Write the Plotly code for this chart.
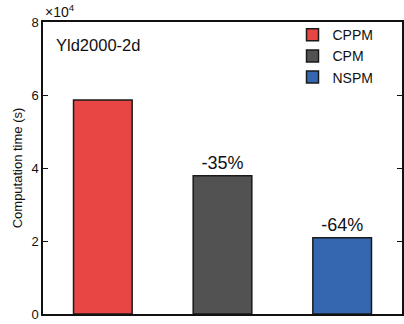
import plotly.graph_objects as go

methods = ["CPPM", "CPM", "NSPM"]
times = [58600, 37900, 20900]
colors = ["#E84545", "#525252", "#3566B0"]
labels = ["", "-35%", "-64%"]
ytick_vals = [0, 20000, 40000, 60000, 80000]
ytick_text = ["0", "2", "4", "6", "8"]

FONT = "Liberation Sans, Arial, sans-serif"

fig = go.Figure()
for i, (m, t, c, lab) in enumerate(zip(methods, times, colors, labels)):
    fig.add_trace(go.Bar(
        x=[i], y=[t], name=m, width=0.49,
        marker=dict(color=c, line=dict(color="#1a1a1a", width=1.5)),
        text=[lab], textposition="outside", cliponaxis=False,
        textfont=dict(size=18, color="#111", family=FONT),
    ))

fig.update_layout(
    width=404, height=324,
    margin=dict(l=43, r=0, t=22, b=10),
    plot_bgcolor="white", paper_bgcolor="white",
    barmode="overlay",
    font=dict(family=FONT, color="#111"),
    showlegend=True,
    legend=dict(x=0.695, y=1.01, xanchor="left", yanchor="top",
                font=dict(size=14, family=FONT), tracegroupgap=0,
                bgcolor="rgba(0,0,0,0)", itemwidth=30),
    xaxis=dict(range=[-0.5, 2.5], showticklabels=False, ticks="",
               showline=True, linecolor="#111", linewidth=1.5, mirror=True,
               showgrid=False, zeroline=False),
    yaxis=dict(range=[0, 80000], tickvals=ytick_vals, ticktext=ytick_text,
               ticks="inside", ticklen=5, tickwidth=1.2, tickcolor="#111",
               showline=True, linecolor="#111", linewidth=1.5, mirror="ticks",
               showgrid=False, zeroline=False, tickfont=dict(size=13),
               title=dict(text="Computation time (s)", font=dict(size=13), standoff=6)),
    annotations=[
        dict(text="×10<sup>4</sup>", xref="paper", yref="paper", x=0.0, y=1.0,
             xanchor="left", yanchor="bottom", showarrow=False, font=dict(size=14)),
        dict(text="Yld2000-2d", xref="paper", yref="paper", x=0.03, y=0.96,
             xanchor="left", yanchor="top", showarrow=False, font=dict(size=16.5)),
    ],
)
fig.write_html("out.html", config={"displayModeBar": False},
               post_script="document.body.style.margin='0';document.body.style.padding='0';")
